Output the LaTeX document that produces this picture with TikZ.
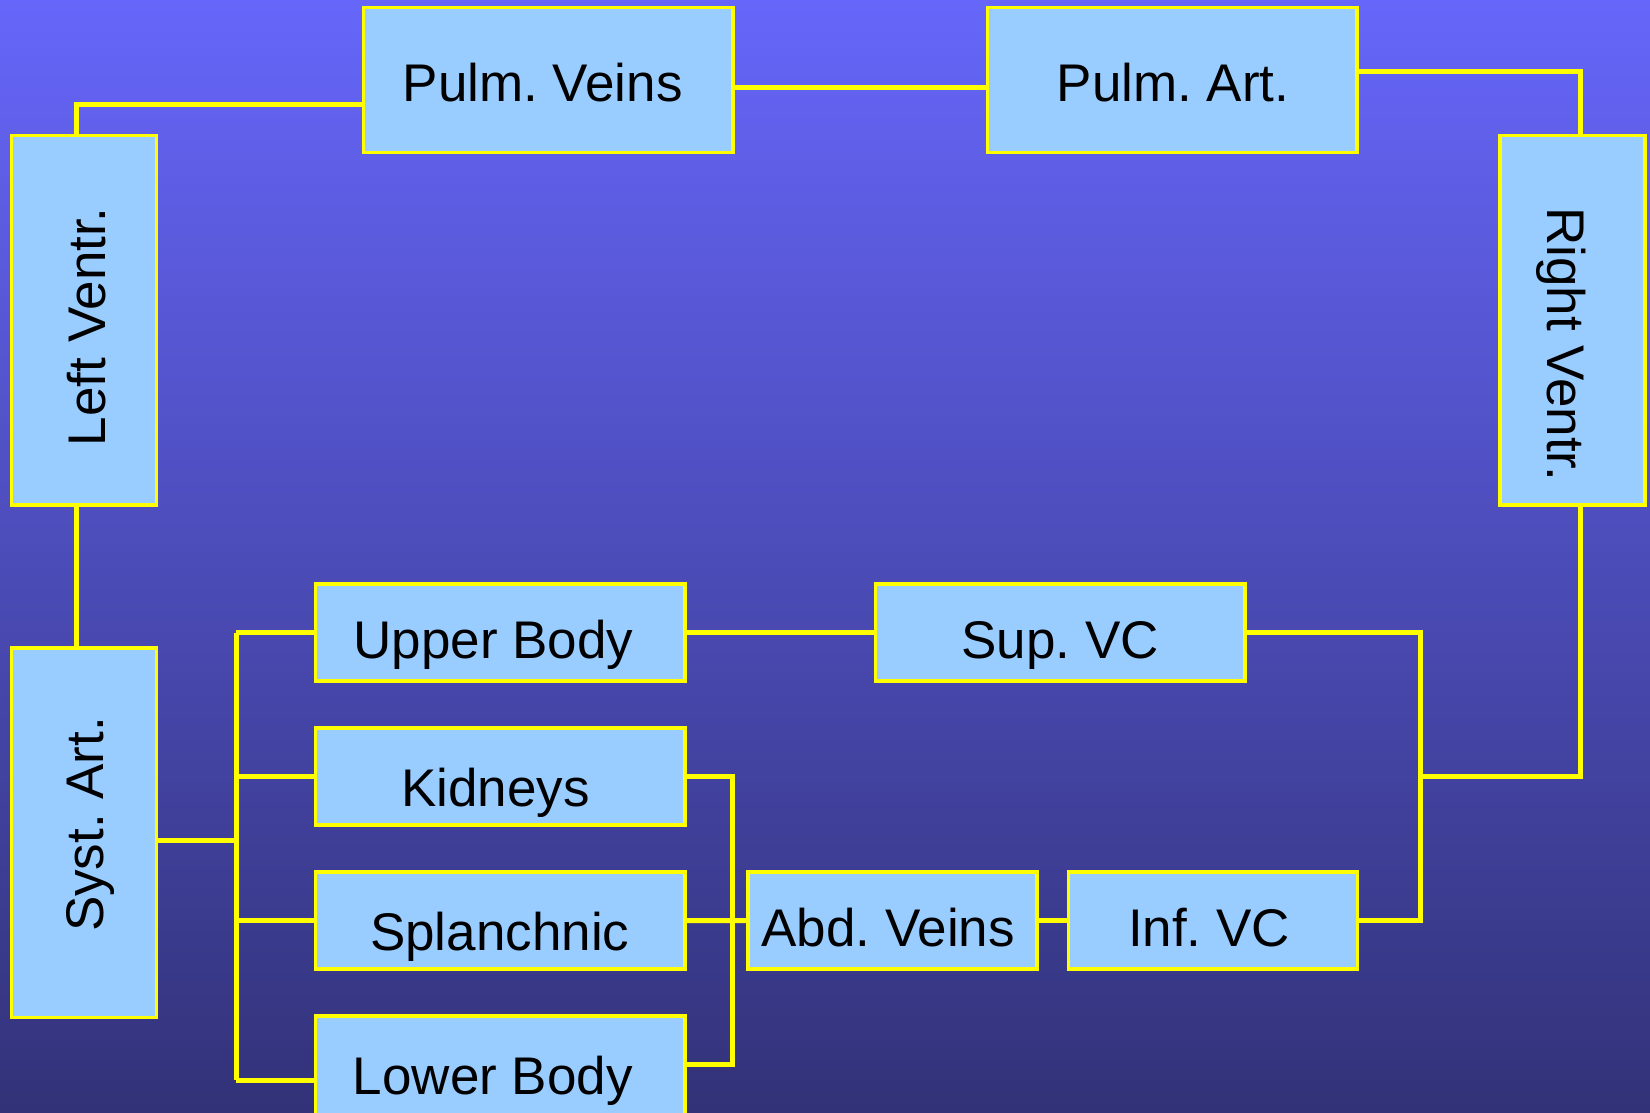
\documentclass[tikz,border=0pt]{standalone}
\usepackage{fontspec}
\setmainfont{Liberation Sans}
\usetikzlibrary{calc}
\definecolor{bgtop}{RGB}{102,102,250}
\definecolor{bgbot}{RGB}{50,50,120}
\definecolor{boxfill}{RGB}{153,204,255}
\definecolor{wireyellow}{RGB}{255,255,0}
\newcommand\lbl[3]{\makebox[0pt]{\hspace*{#1pt}\hspace*{#1pt}\raisebox{#2pt}{#3}}}
\frenchspacing
\begin{document}
\begin{tikzpicture}[x=1pt,y=-1pt,
  organ/.style={draw=wireyellow, line width=3.5pt, fill=boxfill, inner sep=0pt,
    text height=26.5pt, text depth=26.5pt, text=black,
    font=\fontsize{53}{60}\selectfont\frenchspacing},
  bigbox/.style={organ, minimum width=369.5pt, minimum height=145pt},
  smallbox/.style={organ, minimum width=369.4pt, minimum height=97pt},
  wire/.style={draw=wireyellow, line width=5pt}]
\shade[top color=bgtop, bottom color=bgbot] (0,0) rectangle (1650,1113);
\useasboundingbox (0,0) rectangle (1650,1113);

% nodes
\node[bigbox] (pv) at (548.2,80) {\lbl{-5.5}{-21.5}{Pulm. Veins}};
\node[bigbox] (pa) at (1172,80) {\lbl{1}{-21.5}{Pulm. Art.}};
\node[bigbox, rotate=90] (lv) at (84.1,320.3) {\lbl{-6.4}{-21}{Left Ventr.}};
\node[bigbox, rotate=-90] (rv) at (1572.5,320.3) {\lbl{24}{-25}{Right Ventr.}};
\node[bigbox, rotate=90] (sa) at (84.1,832.7) {\lbl{8.2}{-19}{Syst. Art.}};
\node[smallbox] (ub) at (500.3,632.5) {\lbl{-7}{-26}{Upper Body}};
\node[smallbox] (k) at (500.3,776.5) {\lbl{-5}{-29.5}{Kidneys}};
\node[smallbox] (s) at (500.3,920.7) {\lbl{-0.5}{-29.5}{Splanchnic}};
\node[smallbox, minimum height=100pt] (lb) at (500.3,1066) {\lbl{-7.5}{-28}{Lower Body}};
\node[smallbox] (svc) at (1060.2,632.5) {\lbl{0}{-26}{Sup. VC}};
\node[smallbox, minimum width=289pt] (av) at (892.5,920.5) {\lbl{-4.3}{-26}{Abd. Veins}};
\node[smallbox, minimum width=289pt] (ivc) at (1213,920.5) {\lbl{-4}{-26}{Inf. VC}};

% helper coordinates
\coordinate (busx) at (236,0);
\coordinate (kx) at (732,0);
\coordinate (vx) at (1420.7,0);
\coordinate (lvt) at ($(lv.east)+(-8.1,0)$);
\coordinate (lvb) at ($(lv.west)+(-8.1,0)$);
\coordinate (sat) at ($(sa.east)+(-8.1,0)$);
\coordinate (pvin) at ($(pv.west)+(0,24.5)$);
\coordinate (pvout) at ($(pv.east)+(0,8)$);
\coordinate (pain) at ($(pa.west)+(0,8)$);
\coordinate (paout) at ($(pa.east)+(0,-8)$);
\coordinate (rvt) at ($(rv.west)+(7.9,0)$);
\coordinate (rvb) at ($(rv.east)+(7.9,0)$);
\coordinate (saout) at ($(sa.south)+(0,7.7)$);
\coordinate (lbin) at ($(lb.west)+(0,14.3)$);
\coordinate (lbout) at ($(lb.east)+(0,-1.6)$);

% connectors
\draw[wire] (lvt) |- (pvin);
\draw[wire] (pvout) -- (pain);
\draw[wire] (paout) -| (rvt);
\draw[wire] (lvb) -- (sat);
\draw[wire] (saout) -- (saout -| busx);
\draw[wire] (ub.west -| busx) -- (lbin -| busx);
\draw[wire] (ub.west -| busx) -- (ub.west);
\draw[wire] (k.west -| busx) -- (k.west);
\draw[wire] (s.west -| busx) -- (s.west);
\draw[wire] (lbin -| busx) -- (lbin);
\draw[wire] (k.east) -| (lbout -| kx) -- (lbout);
\draw[wire] (s.east) -- (av.west);
\draw[wire] (av.east) -- (ivc.west);
\draw[wire] (ub.east) -- (svc.west);
\draw[wire] (svc.east) -| (ivc.east -| vx) -- (ivc.east);
\draw[wire] (k.east -| vx) -| (rvb);
\end{tikzpicture}
\end{document}
